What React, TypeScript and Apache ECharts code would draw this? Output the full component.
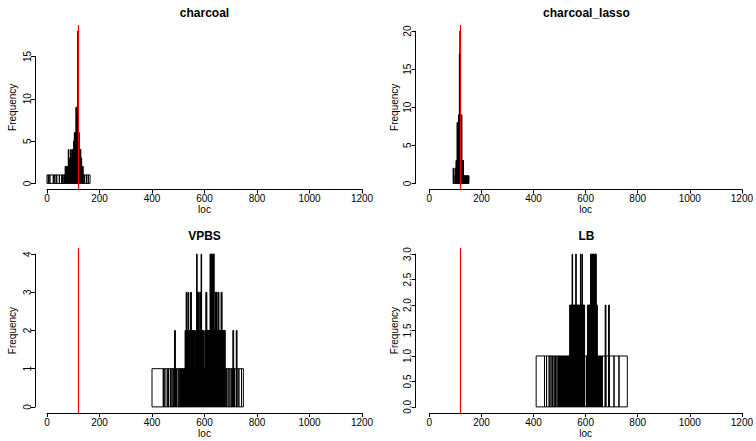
import React, { useEffect, useRef } from "react";
import * as echarts from "echarts";

// ---------- data ----------
const panelTitles = ["charcoal", "charcoal_lasso", "VPBS", "LB"];
const trueLoc = 120;
const xMin = 0;
const xMax = 1200;
const xStep = 200;
const yTickSteps = [5, 5, 1, 0.5];

// histogram breaks (loc) and counts (Frequency) per panel
const charcoalEdges = [0, 5, 11, 24, 30, 37, 47, 56, 60, 65, 69, 72, 75, 78, 81, 83, 86, 89, 92, 95, 98, 101, 104, 107, 110, 113, 117, 120, 123, 126, 129, 132, 135, 138, 143, 150, 157, 164];
const charcoalCounts = [1, 1, 1, 1, 1, 1, 1, 1, 1, 1, 2, 2, 1, 2, 4, 2, 3, 4, 3, 4, 4, 5, 6, 6, 9, 8, 18, 6, 4, 4, 3, 2, 2, 1, 1, 1, 1];

const lassoEdges = [91, 94, 99, 102, 106, 109, 112, 115, 117, 119, 122, 125, 128, 131, 134, 137, 141, 145, 149, 152];
const lassoCounts = [2, 1, 2, 3, 8, 8, 9, 17, 20, 9, 9, 3, 3, 1, 1, 1, 1, 1, 1];

const vpbsEdges = [400, 443, 449, 458, 463, 470, 476, 481, 486, 489, 494, 500, 506, 510, 514, 518, 522, 526, 530, 533, 537, 540, 544, 547, 550, 554, 558, 562, 566, 570, 572, 576, 580, 584, 587, 589, 593, 597, 601, 605, 609, 613, 617, 621, 624, 627, 630, 633, 637, 641, 644, 648, 652, 655, 659, 663, 667, 671, 675, 679, 684, 690, 697, 704, 708, 711, 714, 721, 724, 731, 741, 748];
const vpbsCounts = [1, 1, 1, 1, 1, 1, 1, 1, 2, 1, 1, 1, 1, 1, 1, 1, 1, 2, 3, 2, 3, 2, 2, 3, 2, 2, 2, 1, 2, 4, 3, 3, 2, 3, 4, 2, 2, 1, 2, 3, 2, 2, 2, 4, 4, 3, 4, 4, 2, 3, 3, 2, 3, 2, 2, 3, 2, 2, 2, 1, 1, 1, 1, 1, 2, 1, 1, 2, 1, 1, 1];

const lbEdges = [410, 442, 450, 460, 467, 473, 479, 484, 490, 495, 499, 503, 507, 511, 515, 519, 523, 527, 531, 535, 539, 541, 545, 548, 550, 554, 558, 562, 564, 568, 572, 576, 580, 582, 586, 588, 592, 596, 603, 607, 611, 615, 619, 622, 625, 628, 631, 634, 638, 641, 645, 649, 653, 657, 661, 664, 675, 678, 688, 691, 709, 728, 760];
const lbCounts = [1, 1, 1, 1, 1, 1, 1, 1, 1, 1, 1, 1, 1, 1, 1, 1, 1, 1, 1, 1, 2, 2, 2, 3, 2, 2, 2, 3, 2, 2, 2, 2, 3, 2, 3, 2, 2, 1, 1, 2, 2, 2, 3, 3, 3, 3, 2, 3, 3, 2, 1, 1, 1, 1, 1, 1, 2, 1, 2, 1, 1, 1];

const panelEdges = [charcoalEdges, lassoEdges, vpbsEdges, lbEdges];
const panelCounts = [charcoalCounts, lassoCounts, vpbsCounts, lbCounts];

// ---------- layout ----------
const FONT = '"Liberation Sans", Arial, Helvetica, sans-serif';
const gridLeft = [47, 429.4, 47, 429.4];
const gridWidth = [315, 314, 315, 314];
const plotTop = [25, 25, 248, 248];
const plotBottom = [189.5, 189.5, 413, 413];
const yOffset = [12, 13.7, 12, 13.7];

function buildOption() {
  const grid: any[] = [];
  const xAxis: any[] = [];
  const yAxis: any[] = [];
  const series: any[] = [];
  const title: any[] = [];

  panelTitles.forEach((name, i) => {
    const edges = panelEdges[i];
    const counts = panelCounts[i];
    const bins = counts.map((c, k) => [edges[k], edges[k + 1], c]);
    const ymax = Math.max(...counts);
    const step = yTickSteps[i];
    const lastTick = Math.floor(ymax / step + 1e-9) * step;
    const T = plotTop[i];
    const B = plotBottom[i];
    const H = B - T;
    const ppu = H / (ymax * 1.08);
    const zeroPx = B - 0.04 * ymax * ppu;
    const L = gridLeft[i];
    const W = gridWidth[i];
    const a = 2 * i;
    const b = 2 * i + 1;

    grid.push({ left: L, top: T, width: W, height: H });
    grid.push({ left: L, top: zeroPx - lastTick * ppu, width: W, height: lastTick * ppu });

    xAxis.push({
      gridIndex: a,
      type: "value",
      min: xMin,
      max: xMax,
      interval: xStep,
      axisLine: { show: true, onZero: false, lineStyle: { color: "#000", width: 1 } },
      axisTick: { show: true, length: 4, lineStyle: { color: "#000", width: 1 } },
      axisLabel: {
        show: true,
        fontSize: 10,
        color: "#000",
        margin: 4,
        fontFamily: FONT,
        formatter: (v: number) => String(v),
      },
      splitLine: { show: false },
      name: "loc",
      nameLocation: "middle",
      nameGap: 15,
      nameTextStyle: { fontSize: 10, color: "#000", fontFamily: FONT },
    });
    xAxis.push({ gridIndex: b, type: "value", min: xMin, max: xMax, show: false });

    yAxis.push({
      gridIndex: a,
      type: "value",
      min: -0.04 * ymax,
      max: 1.04 * ymax,
      axisLine: { show: false },
      axisTick: { show: false },
      axisLabel: { show: false },
      splitLine: { show: false },
      name: "Frequency",
      nameLocation: "middle",
      nameRotate: 90,
      nameGap: 30,
      nameTextStyle: { fontSize: 10, color: "#000", fontFamily: FONT },
    });
    yAxis.push({
      gridIndex: b,
      type: "value",
      min: 0,
      max: lastTick,
      interval: step,
      offset: yOffset[i],
      axisLine: { show: true, onZero: false, lineStyle: { color: "#000", width: 1 } },
      axisTick: { show: true, length: 4, lineStyle: { color: "#000", width: 1 } },
      axisLabel: {
        show: true,
        rotate: 90,
        fontSize: 10,
        color: "#000",
        margin: 3,
        fontFamily: FONT,
        formatter: (v: number) => (step < 1 ? v.toFixed(1) : String(v)),
      },
      splitLine: { show: false },
    });

    series.push({
      type: "custom",
      xAxisIndex: a,
      yAxisIndex: a,
      data: bins,
      encode: { x: [0, 1], y: 2 },
      renderItem: (params: any, api: any) => {
        const x0 = api.value(0);
        const x1 = api.value(1);
        const c = api.value(2);
        const p0 = api.coord([x0, 0]);
        const p1 = api.coord([x1, c]);
        const w = p1[0] - p0[0];
        const h = p0[1] - p1[1];
        return {
          type: "rect",
          shape: { x: p0[0], y: p1[1], width: w, height: h },
          style: { fill: w < 1.2 ? "#000" : "none", stroke: "#000", lineWidth: 1 },
        };
      },
      silent: true,
    });
    series.push({
      type: "line",
      xAxisIndex: a,
      yAxisIndex: a,
      data: [],
      markLine: {
        silent: true,
        symbol: ["none", "none"],
        label: { show: false },
        lineStyle: { color: "#ff0000", width: 1.2, type: "solid" },
        data: [{ xAxis: trueLoc }],
      },
    });

    title.push({
      text: name,
      left: L + W / 2,
      top: T - 18,
      textAlign: "center",
      padding: 0,
      textStyle: { fontSize: 12, fontWeight: "bold", color: "#000", fontFamily: FONT },
    });
  });

  return {
    animation: false,
    backgroundColor: "#fff",
    title,
    grid,
    xAxis,
    yAxis,
    series,
  };
}

export default function App() {
  const ref = useRef<HTMLDivElement>(null);
  useEffect(() => {
    document.body.style.margin = "0";
    if (!ref.current) return;
    const chart = echarts.init(ref.current, undefined, { renderer: "svg" });
    chart.setOption(buildOption() as any);
    return () => chart.dispose();
  }, []);
  return (
    <div
      ref={ref}
      style={{ position: "absolute", left: 0, top: 0, width: 756, height: 441, background: "#fff" }}
    />
  );
}
